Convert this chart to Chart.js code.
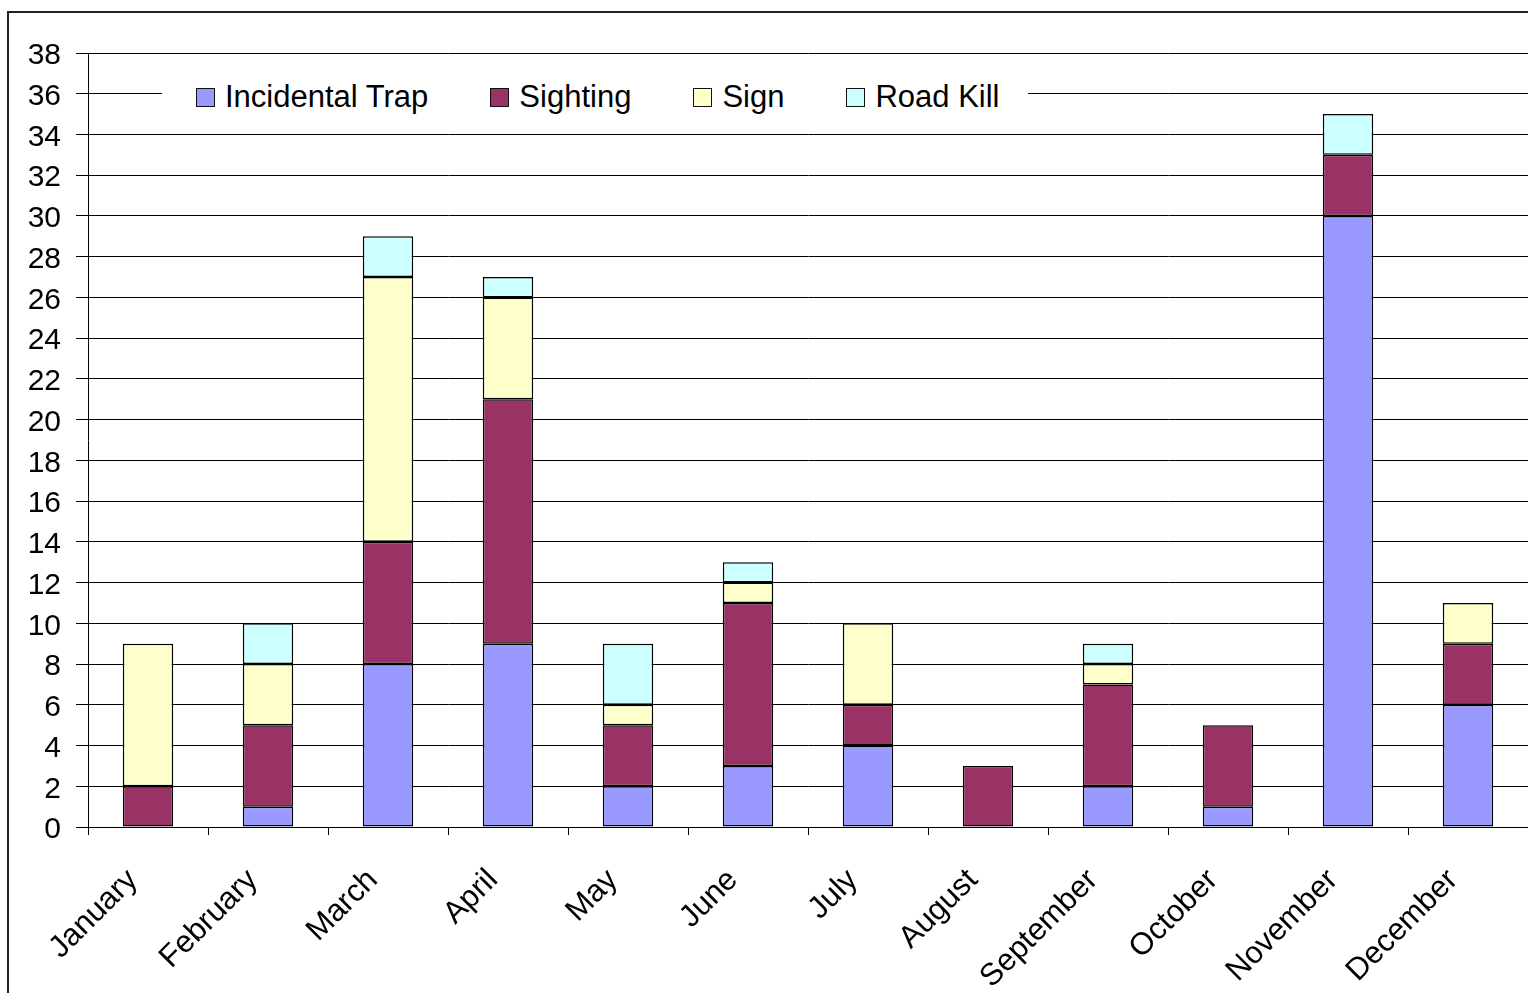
<!DOCTYPE html>
<html>
<head>
<meta charset="utf-8">
<script src="https://cdn.jsdelivr.net/npm/chart.js"></script>
<style>
    body {
        margin: 0;
        background: #fff;
        overflow: hidden;
    }

    .frame {
        position: absolute;
        left: 7px;
        top: 11px;
        width: 2000px;
        height: 2000px;
        border: 2px solid #222;
    }

    .chart-box {
        position: absolute;
        left: 0;
        top: 0;
        width: 1528px;
        height: 993px;
    }

    .legend {
        position: absolute;
        left: 162px;
        top: 75px;
        height: 44px;
        padding: 0 28px 0 34px;
        background: #fff;
        display: flex;
        align-items: center;
        font-family: "Liberation Sans", Arial, sans-serif;
        font-size: 31px;
        color: #000;
    }

    .legend .item {
        display: flex;
        align-items: center;
        margin-right: 62px;
    }

    .legend .item:last-child {
        margin-right: 0;
    }

    .legend .swatch {
        width: 17px;
        height: 17px;
        border: 1.5px solid #111;
        margin-right: 10px;
    }
</style>
</head>
<body>
<div class="frame"></div>
<div class="chart-box">
    <canvas id="sightings-chart" width="1528" height="993"></canvas>
</div>
<div class="legend" id="legend"></div>

<script>
    const months = ['January', 'February', 'March', 'April', 'May', 'June',
        'July', 'August', 'September', 'October', 'November', 'December'];

    // records per month, by type
    const incidentalTrap = [0, 1, 8, 9, 2, 3, 4, 0, 2, 1, 30, 6];
    const sighting       = [2, 4, 6, 12, 3, 8, 2, 3, 5, 4, 3, 3];
    const sign           = [7, 3, 13, 5, 1, 1, 4, 0, 1, 0, 0, 2];
    const roadKill       = [0, 2, 2, 1, 3, 1, 0, 0, 1, 0, 2, 0];

    const seriesNames = ['Incidental Trap', 'Sighting', 'Sign', 'Road Kill'];
    const seriesColors = ['#9999FF', '#993366', '#FFFFCC', '#CCFFFF'];

    const yMin = 0;
    const yMax = 38;
    const yStep = 2;

    const FONT = '"Liberation Sans", Arial, sans-serif';

    const seriesData = [incidentalTrap, sighting, sign, roadKill];

    const datasets = seriesNames.map((name, i) => ({
        label: name,
        data: seriesData[i],
        backgroundColor: seriesColors[i],
        borderColor: '#000',
        borderWidth: 1.5,
        borderSkipped: false,
        categoryPercentage: 1,
        barPercentage: 0.42
    }));

    new Chart(document.getElementById('sightings-chart'), {
        type: 'bar',
        data: { labels: months, datasets: datasets },
        options: {
            responsive: false,
            animation: false,
            devicePixelRatio: 1,
            layout: { padding: { top: 53, left: 0, right: 0, bottom: 0 } },
            plugins: {
                legend: { display: false },
                tooltip: { enabled: false }
            },
            scales: {
                x: {
                    stacked: true,
                    afterFit: (scale) => { scale.height = 166; },
                    border: { display: true, color: '#000', width: 1 },
                    grid: {
                        offset: true,
                        drawOnChartArea: false,
                        drawTicks: true,
                        tickLength: 8,
                        color: '#000',
                        lineWidth: 1
                    },
                    ticks: {
                        autoSkip: false,
                        maxRotation: 45,
                        minRotation: 45,
                        padding: 27,
                        labelOffset: -15,
                        color: '#000',
                        font: { family: FONT, size: 31 }
                    }
                },
                y: {
                    stacked: true,
                    min: yMin,
                    max: yMax,
                    afterFit: (scale) => { scale.width = 88; },
                    border: { display: true, color: '#000', width: 1 },
                    grid: {
                        color: '#000',
                        lineWidth: 1,
                        drawTicks: true,
                        tickLength: 12
                    },
                    ticks: {
                        stepSize: yStep,
                        padding: 15,
                        labelOffset: 3,
                        color: '#000',
                        font: { family: FONT, size: 30 }
                    }
                }
            }
        }
    });

    // legend sits inside the plot on a white strip
    const legendEl = document.getElementById('legend');
    seriesNames.forEach((name, i) => {
        const item = document.createElement('div');
        item.className = 'item';
        const sw = document.createElement('span');
        sw.className = 'swatch';
        sw.style.background = seriesColors[i];
        const txt = document.createElement('span');
        txt.textContent = name;
        item.appendChild(sw);
        item.appendChild(txt);
        legendEl.appendChild(item);
    });
</script>
</body>
</html>
